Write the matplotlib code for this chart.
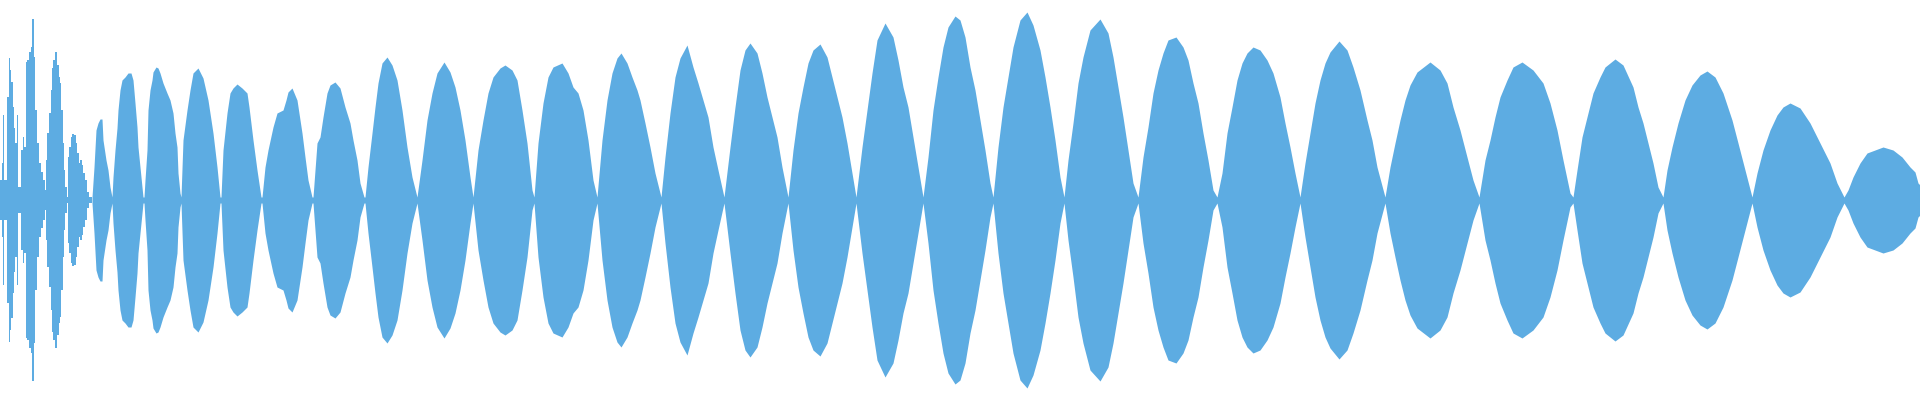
import numpy as np
import matplotlib
matplotlib.use("Agg")
import matplotlib.pyplot as plt

# onset burst at the start (individual bars, frame index -> level)
spike_x = [0, 2, 3, 4, 7, 9, 10, 11, 13, 14, 15, 17, 18, 21, 23, 24, 26, 27, 29, 31,
           32, 34, 35, 37, 39, 41, 43, 45, 46, 47, 49, 51, 52, 53, 55, 57, 59, 60, 61, 63,
           64, 65, 67, 68, 69, 71, 72, 74, 76, 77, 79, 80, 82, 83, 85, 87, 89, 92]
spike_amp = [20, 37, 85, 20, 103, 142, 130, 118, 93, 72, 57, 85, 13, 50, 63, 53, 138, 140, 148, 153,
             181, 143, 90, 57, 37, 28, 20, 10, 40, 67, 87, 110, 132, 140, 148, 135, 123, 117, 90, 57,
             30, 13, 3, 43, 53, 63, 66, 65, 57, 47, 37, 40, 35, 27, 20, 8, 3, 3]

# beating envelope after the onset (frame index -> level)
env_x = [92, 94, 96, 98, 100, 102, 103, 106, 108, 110, 112,
         113, 115, 117, 118, 120, 122, 125, 128, 131, 133, 135, 137, 138, 140, 142, 143,
         144, 145, 147, 148, 150, 152, 153, 156, 158, 160, 163, 167, 170, 173, 175, 177, 178, 180, 181,
         183, 187, 190, 193, 198, 203, 208, 213, 217, 220,
         221, 223, 227, 230, 233, 237, 242, 247, 249, 253, 257, 261,
         262, 265, 268, 273, 277, 283, 286, 288, 292, 297, 302, 305, 308, 312,
         313, 317, 320, 323, 327, 330, 335, 340, 345, 350, 353, 357, 360, 364,
         365, 368, 372, 375, 378, 382, 387, 392, 397, 402, 407, 412, 417,
         422, 427, 432, 437, 444, 450, 455, 460, 465, 470, 473,
         478, 483, 488, 493, 500, 505, 512, 517, 522, 527, 532, 534,
         538, 543, 548, 553, 562, 568, 573, 578, 583, 588, 593, 597,
         602, 607, 612, 617, 621, 627, 632, 637, 640, 645, 650, 655, 661,
         665, 670, 675, 680, 687, 693, 698, 703, 708, 713, 718, 724,
         730, 735, 740, 745, 750, 757, 762, 767, 772, 777, 782, 788,
         793, 798, 803, 808, 813, 820, 827, 832, 837, 842, 847, 852, 856,
         862, 867, 872, 877, 885, 893, 898, 903, 908, 913, 918, 923,
         928, 933, 938, 943, 948, 955, 960, 965, 970, 975, 980, 985, 990, 993,
         998, 1003, 1008, 1013, 1020, 1027, 1033, 1040, 1045, 1050, 1055, 1060, 1064,
         1068, 1073, 1078, 1083, 1090, 1100, 1108, 1113, 1118, 1123, 1128, 1133, 1138,
         1143, 1148, 1153, 1158, 1163, 1168, 1176, 1183, 1188, 1193, 1198, 1203, 1208, 1213, 1217,
         1222, 1227, 1232, 1237, 1242, 1247, 1253, 1260, 1267, 1273, 1280, 1285, 1290, 1295, 1300,
         1305, 1310, 1315, 1320, 1325, 1330, 1339, 1347, 1353, 1360, 1367, 1372, 1377, 1385,
         1390, 1395, 1400, 1405, 1410, 1417, 1430, 1440, 1447, 1453, 1460, 1467, 1473, 1479,
         1485, 1490, 1495, 1500, 1507, 1513, 1522, 1533, 1543, 1550, 1557, 1563, 1570, 1573,
         1577, 1582, 1587, 1593, 1600, 1605, 1615, 1623, 1633, 1638, 1643, 1648, 1653, 1658, 1663,
         1667, 1672, 1678, 1685, 1692, 1700, 1707, 1715, 1723, 1732, 1738, 1745, 1752,
         1757, 1763, 1770, 1777, 1783, 1790, 1800, 1810, 1820, 1830, 1837, 1844,
         1848, 1853, 1860, 1867, 1875, 1883, 1893, 1902, 1910, 1915, 1918, 1920]
env_amp = [3, 33, 70, 77, 81, 81, 60, 40, 30, 13, 3,
           23, 50, 72, 90, 110, 120, 123, 127, 127, 120, 97, 73, 53, 33, 13, 3,
           3, 20, 50, 90, 110, 120, 128, 133, 132, 127, 117, 107, 100, 87, 67, 53, 27, 7, 3,
           60, 90, 110, 127, 132, 122, 100, 67, 33, 3,
           3, 50, 87, 107, 112, 116, 112, 107, 93, 60, 30, 3,
           3, 33, 50, 73, 87, 90, 100, 108, 112, 100, 67, 43, 20, 3,
           3, 57, 63, 83, 107, 115, 118, 112, 93, 77, 60, 40, 17, 3,
           3, 33, 67, 93, 117, 137, 143, 135, 120, 90, 53, 23, 3,
           40, 80, 107, 127, 138, 128, 113, 90, 60, 23, 3,
           50, 80, 107, 123, 132, 135, 130, 120, 90, 57, 10, 3,
           57, 97, 123, 133, 137, 127, 113, 107, 90, 60, 20, 3,
           60, 100, 127, 142, 147, 137, 123, 110, 100, 77, 53, 27, 3,
           43, 87, 123, 142, 155, 133, 117, 100, 83, 53, 30, 3,
           53, 93, 130, 150, 157, 147, 127, 103, 83, 63, 33, 3,
           50, 87, 113, 137, 150, 156, 143, 123, 103, 83, 57, 27, 3,
           53, 90, 127, 160, 177, 163, 140, 113, 93, 63, 33, 3,
           43, 90, 123, 153, 173, 184, 180, 163, 133, 110, 80, 50, 17, 3,
           53, 93, 123, 153, 180, 188, 175, 150, 123, 93, 60, 23, 3,
           40, 77, 117, 143, 170, 181, 167, 143, 113, 83, 50, 17, 3,
           43, 73, 107, 130, 147, 160, 163, 153, 140, 117, 97, 67, 40, 10, 3,
           27, 67, 93, 120, 137, 147, 153, 150, 140, 127, 103, 77, 53, 27, 3,
           37, 67, 97, 120, 137, 148, 159, 150, 133, 110, 80, 60, 33, 3,
           33, 57, 80, 100, 115, 128, 138, 130, 117, 93, 70, 43, 20, 3,
           40, 60, 83, 103, 120, 133, 138, 130, 117, 97, 70, 40, 7, 3,
           30, 63, 83, 107, 123, 133, 141, 135, 113, 93, 77, 57, 37, 13, 3,
           30, 53, 77, 100, 115, 125, 129, 123, 107, 80, 57, 30, 3,
           27, 50, 70, 85, 93, 97, 92, 77, 57, 37, 17, 3,
           10, 23, 37, 47, 50, 53, 50, 43, 33, 28, 17, 15]

spike_x = np.array(spike_x)
spike_amp = np.array(spike_amp)
env_x = np.array(env_x)
env_amp = np.array(env_amp)

color = "#5DACE2"

fig = plt.figure(figsize=(19.2, 4), dpi=100)
ax = fig.add_axes([0, 0, 1, 1])

ax.fill_between(spike_x, -spike_amp, spike_amp, step="post", color=color, linewidth=0)
ax.fill_between(env_x, -env_amp, env_amp, color=color, linewidth=0)

ax.set_xlim(0, 1920)
ax.set_ylim(-200, 200)
ax.axis("off")

fig.savefig("out.png", dpi=100, facecolor="white")
